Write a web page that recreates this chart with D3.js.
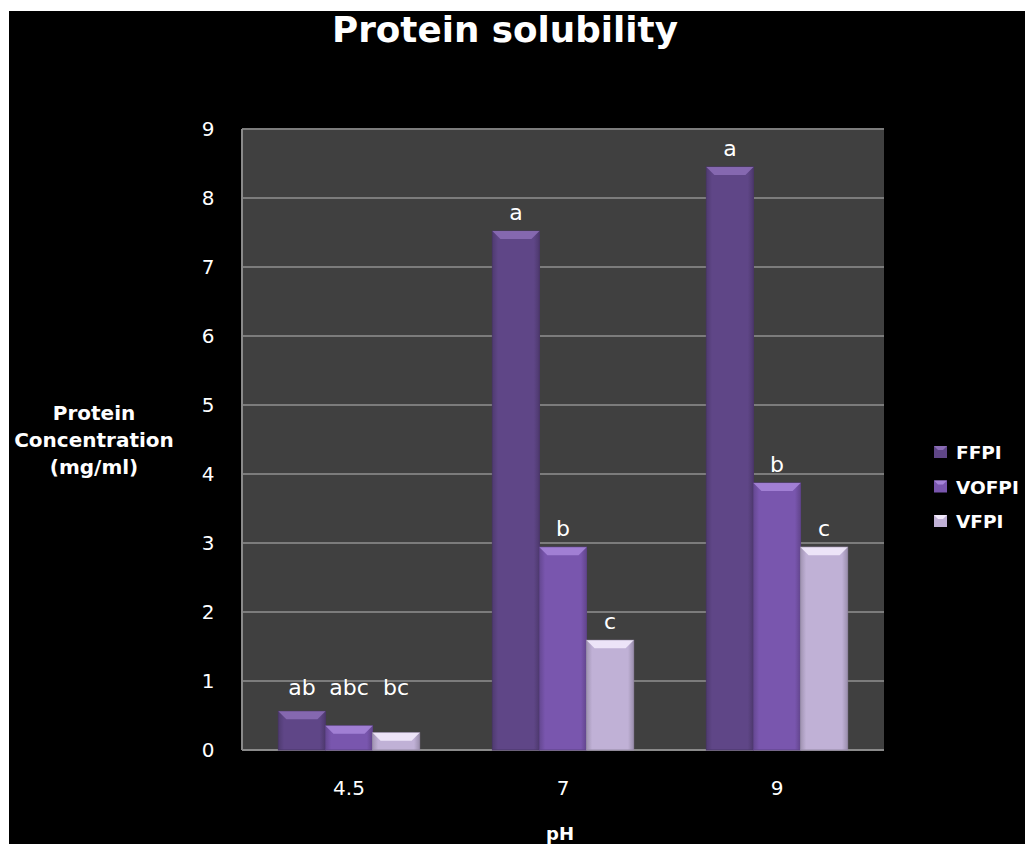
<!DOCTYPE html>
<html>
<head>
<meta charset="utf-8">
<script src="https://cdn.jsdelivr.net/npm/d3@7"></script>
<style>
  body { margin: 0; background: #fff; }
  text { font-family: "DejaVu Sans", "Open Sans", sans-serif; fill: #fff; }
</style>
</head>
<body>
<script>
// chart data
var categories = ['4.5', '7', '9'];
var seriesNames = ['FFPI', 'VOFPI', 'VFPI'];
var ffpi = [0.56, 7.52, 8.45];
var vofpi = [0.35, 2.94, 3.87];
var vfpi = [0.25, 1.59, 2.94];
var letters = [['ab', 'a', 'a'], ['abc', 'b', 'b'], ['bc', 'c', 'c']];
var yTicks = [0, 1, 2, 3, 4, 5, 6, 7, 8, 9];

var series = [ffpi, vofpi, vfpi];
var colors = ['#5f4687', '#7956ae', '#c0b1d6'];
var tops = ['#8a6cb5', '#a584d8', '#f2eafc'];

var width = 1025, height = 844;
var svg = d3.select('body').append('svg')
    .attr('width', width)
    .attr('height', height);

// black backdrop, small white margin top and left
svg.append('rect').attr('x', 9).attr('y', 11)
   .attr('width', width - 9).attr('height', height - 11)
   .attr('fill', '#000');

var plot = { left: 242, top: 129, right: 884, bottom: 750 };

var x0 = d3.scaleBand().domain(categories)
    .range([plot.left, plot.right]).paddingInner(0.34).paddingOuter(0.17);
var x1 = d3.scaleBand().domain(seriesNames).range([0, x0.bandwidth()]);
var y = d3.scaleLinear().domain([0, 9]).range([plot.bottom, plot.top]);

// gradients for the bevelled look
var defs = svg.append('defs');
colors.forEach(function(c, i) {
  var g = defs.append('linearGradient').attr('id', 'g' + i)
      .attr('x1', 0).attr('x2', 1).attr('y1', 0).attr('y2', 0);
  g.append('stop').attr('offset', '0%').attr('stop-color', d3.color(c).darker(0.5));
  g.append('stop').attr('offset', '12%').attr('stop-color', c);
  g.append('stop').attr('offset', '88%').attr('stop-color', c);
  g.append('stop').attr('offset', '100%').attr('stop-color', d3.color(c).darker(0.6));
});

svg.append('rect')
   .attr('x', plot.left).attr('y', plot.top)
   .attr('width', plot.right - plot.left).attr('height', plot.bottom - plot.top)
   .attr('fill', '#404040');

// gridlines
svg.append('g').selectAll('line').data(yTicks.slice(1)).enter().append('line')
   .attr('x1', plot.left).attr('x2', plot.right)
   .attr('y1', function(d) { return y(d); }).attr('y2', function(d) { return y(d); })
   .attr('stroke', '#7c7c7c').attr('stroke-width', 2);

// axis lines
svg.append('line').attr('x1', plot.left).attr('x2', plot.left)
   .attr('y1', plot.top).attr('y2', plot.bottom)
   .attr('stroke', '#8a8a8a').attr('stroke-width', 2);
svg.append('line').attr('x1', plot.left).attr('x2', plot.right)
   .attr('y1', plot.bottom).attr('y2', plot.bottom)
   .attr('stroke', '#8a8a8a').attr('stroke-width', 2);

// bars
var groups = svg.append('g').selectAll('g').data(categories).enter().append('g')
    .attr('transform', function(d) { return 'translate(' + x0(d) + ',0)'; });

groups.each(function(cat, ci) {
  var g = d3.select(this);
  series.forEach(function(vals, si) {
    var bx = x1(seriesNames[si]), bw = x1.bandwidth();
    var by = y(vals[ci]), bh = plot.bottom - by;
    g.append('rect').attr('x', bx).attr('y', by)
     .attr('width', bw).attr('height', bh)
     .attr('fill', 'url(#g' + si + ')')
     .attr('stroke', d3.color(colors[si]).darker(0.7)).attr('stroke-width', 1);
    // top bevel
    var bev = Math.min(8, bh / 2);
    g.append('path')
     .attr('d', 'M' + bx + ',' + by + 'L' + (bx + bw) + ',' + by +
                'L' + (bx + bw - bev) + ',' + (by + bev) + 'L' + (bx + bev) + ',' + (by + bev) + 'Z')
     .attr('fill', tops[si]).attr('opacity', 0.9);
    // letter label, small bars share one line just under the 1 gridline
    g.append('text').attr('x', bx + bw / 2).attr('y', Math.min(by - 11, y(0.8)))
     .attr('text-anchor', 'middle').style('font-size', '22px')
     .text(letters[si][ci]);
  });
});

// y tick labels
svg.append('g').selectAll('text').data(yTicks).enter().append('text')
   .attr('x', 208).attr('y', function(d) { return y(d) + 7; })
   .attr('text-anchor', 'middle').style('font-size', '20px')
   .text(function(d) { return d; });

// x tick labels
svg.append('g').selectAll('text').data(categories).enter().append('text')
   .attr('x', function(d) { return x0(d) + x0.bandwidth() / 2; })
   .attr('y', 795).attr('text-anchor', 'middle').style('font-size', '20px')
   .text(function(d) { return d; });

// titles
svg.append('text').attr('x', 505).attr('y', 42).attr('text-anchor', 'middle')
   .attr('textLength', 346).attr('lengthAdjust', 'spacingAndGlyphs')
   .style('font-size', '35px').style('font-weight', 'bold').text('Protein solubility');
svg.append('text').attr('x', 560).attr('y', 840).attr('text-anchor', 'middle')
   .style('font-size', '18px').style('font-weight', 'bold').text('pH');

var ytitle = ['Protein', 'Concentration', '(mg/ml)'];
svg.append('g').selectAll('text').data(ytitle).enter().append('text')
   .attr('x', 94).attr('y', function(d, i) { return 420 + i * 27; })
   .attr('text-anchor', 'middle').style('font-size', '20px').style('font-weight', 'bold')
   .text(function(d) { return d; });

// legend
var legend = svg.append('g').selectAll('g').data(seriesNames).enter().append('g')
    .attr('transform', function(d, i) { return 'translate(934,' + (446 + i * 34.5) + ')'; });
legend.append('rect').attr('width', 13).attr('height', 12)
    .attr('fill', function(d, i) { return colors[i]; });
legend.append('path').attr('d', 'M0,0L13,0L9,4L4,4Z')
    .attr('fill', function(d, i) { return tops[i]; });
legend.append('text').attr('x', 22).attr('y', 13)
    .style('font-size', '18.5px').style('font-weight', 'bold')
    .text(function(d) { return d; });
</script>
</body>
</html>
